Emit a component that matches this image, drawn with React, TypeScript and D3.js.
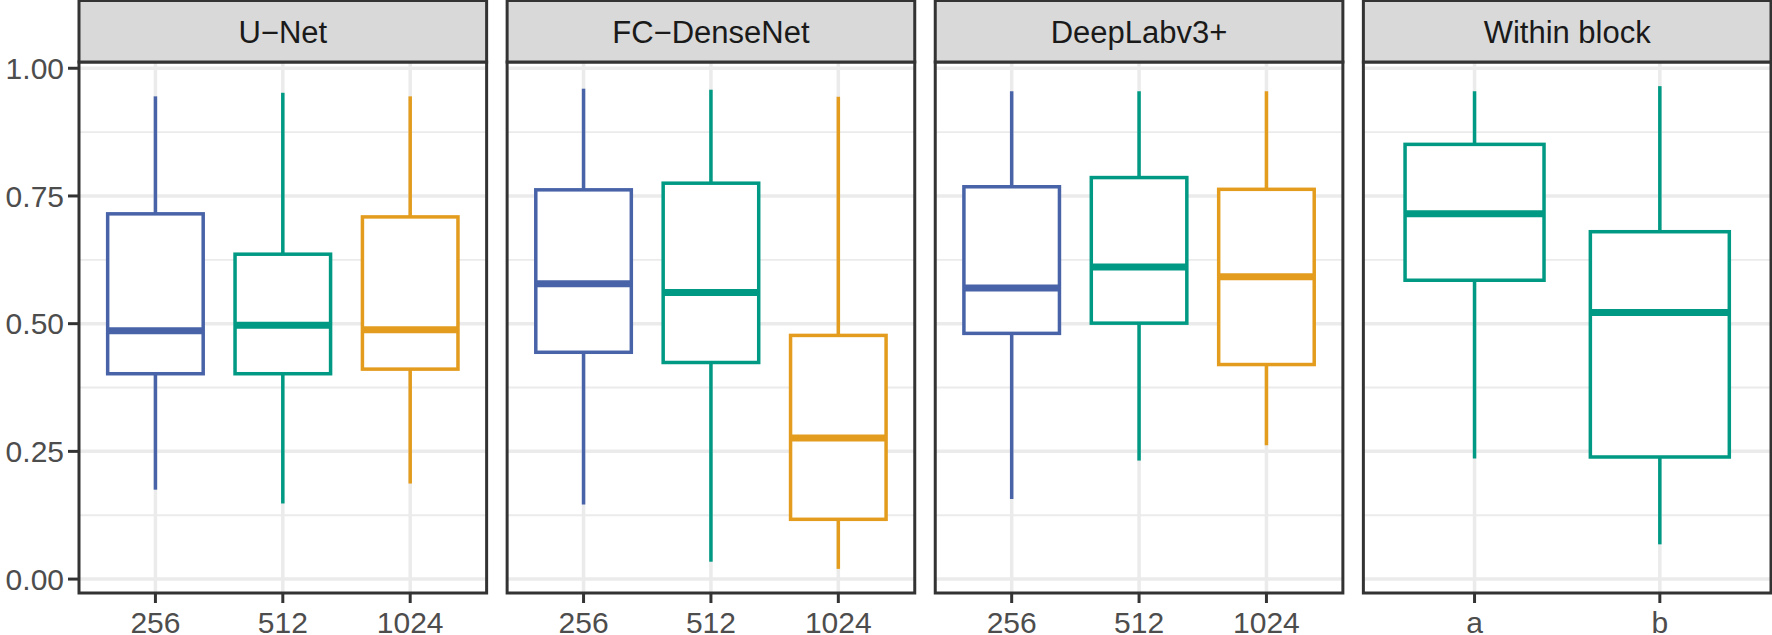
import React from 'react';
import * as d3 from 'd3';

// facet titles and the x categories of each facet
const panelTitles = ['U\u2212Net', 'FC\u2212DenseNet', 'DeepLabv3+', 'Within block'];
const panelCategories = [
  ['256', '512', '1024'],
  ['256', '512', '1024'],
  ['256', '512', '1024'],
  ['a', 'b'],
];

// boxplot stats per facet, same order as the categories
const whiskerLow = [
  [0.175, 0.148, 0.187],
  [0.146, 0.034, 0.02],
  [0.157, 0.232, 0.262],
  [0.236, 0.068],
];
const quartile1 = [
  [0.402, 0.402, 0.411],
  [0.444, 0.424, 0.117],
  [0.481, 0.501, 0.42],
  [0.585, 0.239],
];
const medians = [
  [0.486, 0.497, 0.488],
  [0.578, 0.561, 0.276],
  [0.57, 0.611, 0.592],
  [0.715, 0.522],
];
const quartile3 = [
  [0.715, 0.636, 0.709],
  [0.762, 0.775, 0.477],
  [0.768, 0.786, 0.763],
  [0.851, 0.68],
];
const whiskerHigh = [
  [0.945, 0.952, 0.945],
  [0.96, 0.958, 0.944],
  [0.955, 0.955, 0.955],
  [0.955, 0.965],
];

const yTicks = [0, 0.25, 0.5, 0.75, 1];
const yMinor = [0.125, 0.375, 0.625, 0.875];

const colorKeys = ['256', '512', '1024', 'a', 'b'];
const colorValues = ['#4863A8', '#009983', '#E39C1E', '#009983', '#009983'];

const WIDTH = 1772;
const HEIGHT = 635;
const FONT = '"Liberation Sans", Arial, Helvetica, sans-serif';

export default function App() {
  const left = 79;
  const right = 1771;
  const gap = 20.5;
  const stripTop = 0.5;
  const stripBottom = 62;
  const panelBottom = 593;
  const panelW = (right - left - gap * 3) / 4;

  const allVals = [...whiskerLow.flat(), ...whiskerHigh.flat()];
  const [lo, hi] = d3.extent(allVals) as [number, number];
  const pad = (hi - lo) * 0.05;
  const y = d3.scaleLinear().domain([lo - pad, hi + pad]).range([panelBottom, stripBottom]);
  const color = d3.scaleOrdinal<string, string>().domain(colorKeys).range(colorValues);
  const fmt = d3.format('.2f');

  return (
    <svg
      width={WIDTH}
      height={HEIGHT}
      style={{ position: 'absolute', left: 0, top: 0, display: 'block', background: '#fff' }}
      fontFamily={FONT}
    >
      {/* y axis */}
      {yTicks.map((t) => (
        <g key={t}>
          <line x1={left - 11} x2={left} y1={y(t)} y2={y(t)} stroke="#333333" strokeWidth={3} />
          <text x={left - 15} y={y(t)} dy="0.36em" textAnchor="end" fontSize={30} fill="#4D4D4D">
            {fmt(t)}
          </text>
        </g>
      ))}

      {panelTitles.map((title, pi) => {
        const x0 = left + pi * (panelW + gap);
        const cats = panelCategories[pi];
        const x = d3.scalePoint<string>().domain(cats).range([x0, x0 + panelW]).padding(0.6);
        const bw = x.step() * 0.75;
        return (
          <g key={title}>
            <rect x={x0} y={stripBottom} width={panelW} height={panelBottom - stripBottom} fill="#fff" />
            {yMinor.map((t) => (
              <line key={'m' + t} x1={x0} x2={x0 + panelW} y1={y(t)} y2={y(t)} stroke="#EBEBEB" strokeWidth={1.8} />
            ))}
            {yTicks.map((t) => (
              <line key={'M' + t} x1={x0} x2={x0 + panelW} y1={y(t)} y2={y(t)} stroke="#EBEBEB" strokeWidth={3.5} />
            ))}
            {cats.map((c) => (
              <line key={'v' + c} x1={x(c)} x2={x(c)} y1={stripBottom} y2={panelBottom} stroke="#EBEBEB" strokeWidth={3.5} />
            ))}

            {cats.map((c, i) => {
              const cx = x(c) as number;
              const col = color(c);
              return (
                <g key={'b' + c} stroke={col} fill="none">
                  <line x1={cx} x2={cx} y1={y(quartile3[pi][i])} y2={y(whiskerHigh[pi][i])} strokeWidth={3.5} />
                  <line x1={cx} x2={cx} y1={y(quartile1[pi][i])} y2={y(whiskerLow[pi][i])} strokeWidth={3.5} />
                  <rect
                    x={cx - bw / 2}
                    y={y(quartile3[pi][i])}
                    width={bw}
                    height={y(quartile1[pi][i]) - y(quartile3[pi][i])}
                    fill="#fff"
                    strokeWidth={3.5}
                  />
                  <line x1={cx - bw / 2} x2={cx + bw / 2} y1={y(medians[pi][i])} y2={y(medians[pi][i])} strokeWidth={7} />
                </g>
              );
            })}

            <rect
              x={x0}
              y={stripBottom}
              width={panelW}
              height={panelBottom - stripBottom}
              fill="none"
              stroke="#333333"
              strokeWidth={3}
            />
            <rect
              x={x0}
              y={stripTop}
              width={panelW}
              height={stripBottom - stripTop}
              fill="#D9D9D9"
              stroke="#333333"
              strokeWidth={3}
            />
            <text x={x0 + panelW / 2} y={42.7} textAnchor="middle" fontSize={31} fill="#1A1A1A">
              {title}
            </text>

            {cats.map((c) => (
              <g key={'t' + c}>
                <line x1={x(c)} x2={x(c)} y1={panelBottom} y2={panelBottom + 10} stroke="#333333" strokeWidth={3} />
                <text x={x(c)} y={633} textAnchor="middle" fontSize={30} fill="#4D4D4D">
                  {c}
                </text>
              </g>
            ))}
          </g>
        );
      })}
    </svg>
  );
}
